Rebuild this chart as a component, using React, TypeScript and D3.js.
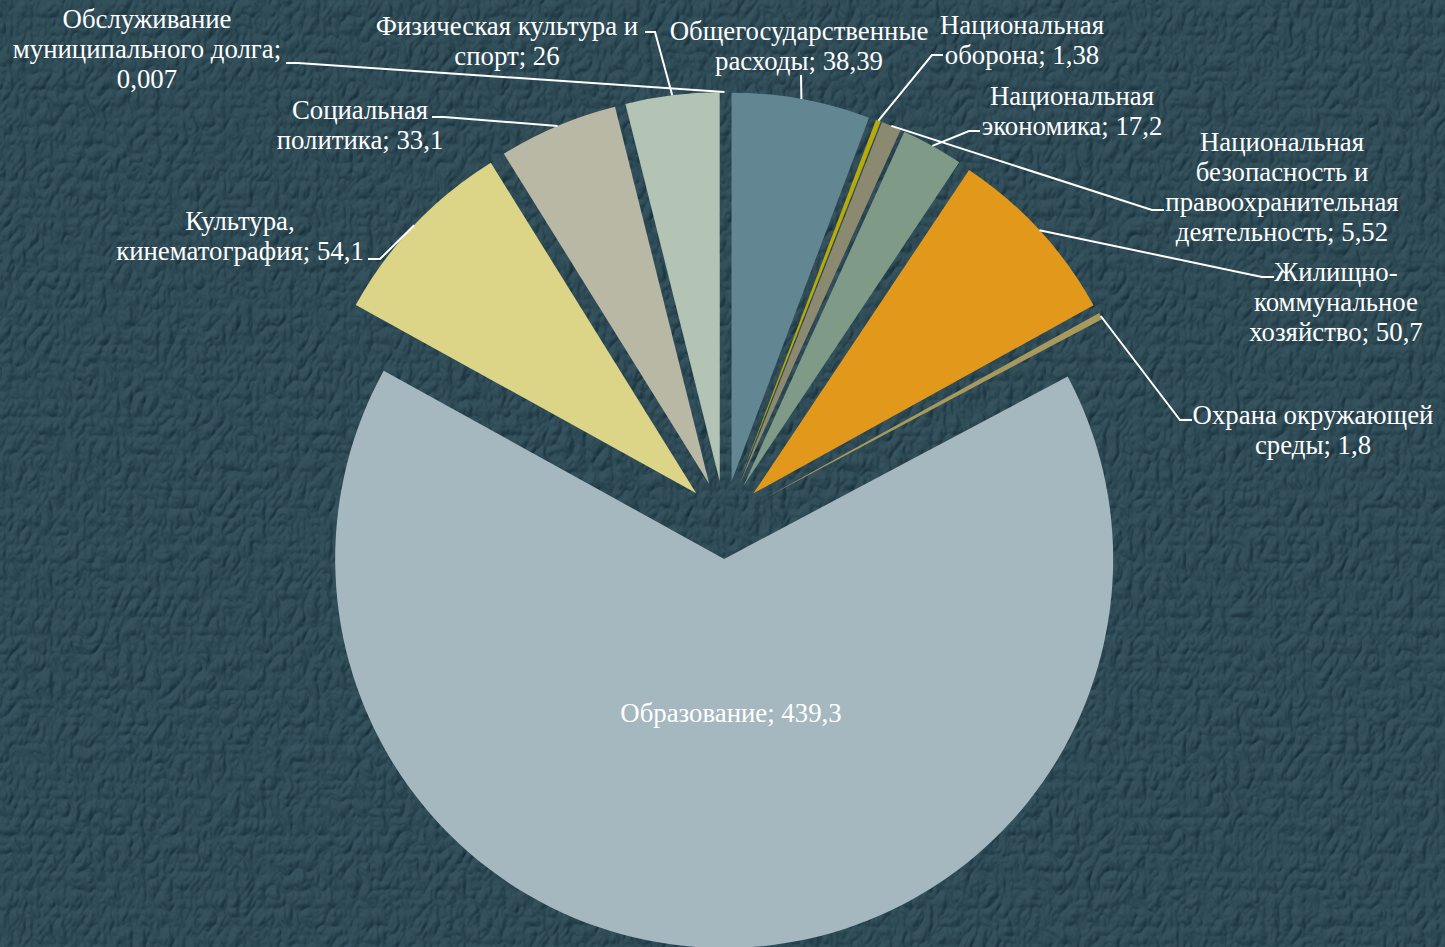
import * as d3 from 'd3';
import React from 'react';

// budget items, clockwise from 12 o'clock
const categories = [
  'Общегосударственные расходы',
  'Национальная оборона',
  'Национальная безопасность и правоохранительная деятельность',
  'Национальная экономика',
  'Жилищно-коммунальное хозяйство',
  'Охрана окружающей среды',
  'Образование',
  'Культура, кинематография',
  'Социальная политика',
  'Физическая культура и спорт',
  'Обслуживание муниципального долга',
];
const values = [38.39, 1.38, 5.52, 17.2, 50.7, 1.8, 439.3, 54.1, 33.1, 26, 0.007];
const colors = [
  '#628692', '#b8aa08', '#8b8a70', '#7f9a87', '#e2991b', '#a89a5c',
  '#a6b8bf', '#dcd587', '#b9b8a5', '#b4c4b4', '#a0b0b0',
];

const W = 1445;
const H = 947;
const cx = 724.5;
const cy = 520;
const radius = 389;
const explode = 39;

// label placement: centre x, first line centre y, words per line, leader elbow
const labelLayout = [
  { x: 799, y: 31, lines: [1, 2], path: [[801, 75]] },
  { x: 1022, y: 25, lines: [1, 2], path: [[932, 55], [943, 55]] },
  { x: 1282, y: 142, lines: [1, 2, 1, 2], path: [[1152, 210], [1164, 210]] },
  { x: 1072, y: 96, lines: [1, 2], path: [[969, 131], [980, 131]] },
  { x: 1336, y: 272, lines: [1, 1, 2], path: [[1262, 277], [1274, 277]] },
  { x: 1313, y: 415, lines: [2, 2], path: [[1180, 420], [1192, 420]] },
  { x: 731, y: 713, lines: [2], path: null },
  { x: 240, y: 221, lines: [1, 2], path: [[380, 259], [368, 259]] },
  { x: 360, y: 110, lines: [1, 2], path: [[444, 117], [432, 117]] },
  { x: 507, y: 26, lines: [3, 2], path: [[655, 32], [645, 32]] },
  { x: 147, y: 19, lines: [1, 2, 1], path: [[298, 63], [286, 63]] },
];

function splitLines(text: string, counts: number[]) {
  const words = text.split(/(?<=-)|\s+/).filter((w) => w.length);
  const out: string[] = [];
  let k = 0;
  counts.forEach((n) => {
    out.push(words.slice(k, k + n).join(' ').replace(/- /g, '-'));
    k += n;
  });
  return out;
}

export default function App() {
  const pie = d3.pie<number>().sort(null).value((d) => d);
  const arcs = pie(values);
  const arc = d3.arc<d3.PieArcDatum<number>>().innerRadius(0).outerRadius(radius);

  const fmt = (v: number) => String(v).replace('.', ',');

  return (
    <svg
      width={W}
      height={H}
      style={{ position: 'absolute', left: 0, top: 0, display: 'block' }}
      fontFamily='"Liberation Serif", "Times New Roman", serif'
    >
      <defs>
        <filter id="tex" x="0" y="0" width="100%" height="100%" colorInterpolationFilters="sRGB">
          <feTurbulence type="turbulence" baseFrequency="0.075 0.055" numOctaves="2" seed="7" result="noise" />
          <feDiffuseLighting in="noise" lightingColor="#ffffff" surfaceScale="2.6" result="lit">
            <feDistantLight azimuth="235" elevation="55" />
          </feDiffuseLighting>
          <feColorMatrix
            in="lit"
            type="matrix"
            values="0.17 0 0 0 0.045  0 0.2 0 0 0.132  0 0.2 0 0 0.176  0 0 0 0 1"
          />
        </filter>
      </defs>
      <rect width={W} height={H} fill="#2f4c58" />
      <rect width={W} height={H} filter="url(#tex)" />

      <g>
        {arcs.map((a, i) => {
          const mid = (a.startAngle + a.endAngle) / 2;
          const dx = Math.sin(mid) * explode;
          const dy = -Math.cos(mid) * explode;
          return (
            <path
              key={i}
              d={arc(a) || ''}
              fill={colors[i]}
              transform={`translate(${cx + dx},${cy + dy})`}
            />
          );
        })}
      </g>

      <g stroke="#ffffff" strokeWidth={2} fill="none">
        {arcs.map((a, i) => {
          const lay = labelLayout[i];
          if (!lay.path) return null;
          const mid = (a.startAngle + a.endAngle) / 2;
          const rr = radius + explode;
          const pts: [number, number][] = [
            [cx + Math.sin(mid) * rr, cy - Math.cos(mid) * rr],
            ...(lay.path as [number, number][]),
          ];
          return <path key={i} d={d3.line()(pts) || ''} />;
        })}
      </g>

      <g fill="#ffffff" fontSize={26.8} textAnchor="middle">
        {arcs.map((a, i) => {
          const lay = labelLayout[i];
          const lines = splitLines(`${categories[i]}; ${fmt(values[i])}`, lay.lines);
          return (
            <text key={i} x={lay.x} y={lay.y}>
              {lines.map((ln, j) => (
                <tspan key={j} x={lay.x} y={lay.y + j * 30} dy="0.35em">
                  {ln}
                </tspan>
              ))}
            </text>
          );
        })}
      </g>
    </svg>
  );
}
